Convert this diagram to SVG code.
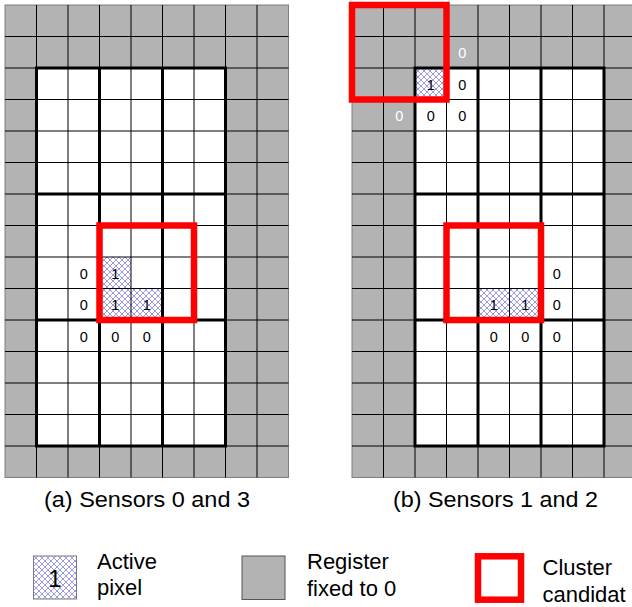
<svg xmlns="http://www.w3.org/2000/svg" width="632" height="607" viewBox="0 0 632 607">
<style>
.bg{fill:#b3b3b3;stroke:#7f7f7f;stroke-width:1}
.wh{fill:#ffffff}
.thin{fill:none;stroke:#000;stroke-width:1}
.thick{fill:none;stroke:#000;stroke-width:3}
.red{fill:none;stroke:#ff0000;stroke-width:6.5}
.act{fill:url(#hatch)}
.d{font-family:"Liberation Sans",Arial,sans-serif;font-size:14.5px;text-anchor:middle;fill:#000}
.dw{fill:#ffffff}
.lbl{font-family:"Liberation Sans",Arial,sans-serif;font-size:22px;fill:#000}
</style>
<defs>
<pattern id="hatch" patternUnits="userSpaceOnUse" width="6" height="6">
<rect width="6" height="6" fill="#ffffff"/>
<path d="M0,0L6,6M6,0L0,6" stroke="#7070d8" stroke-width="0.7"/>
</pattern>
<path id="grid" class="thin" d="M31.5,0V472.5M63,0V472.5M94.5,0V472.5M126,0V472.5M157.5,0V472.5M189,0V472.5M220.5,0V472.5M252,0V472.5M0,31.5H283.5M0,63H283.5M0,94.5H283.5M0,126H283.5M0,157.5H283.5M0,189H283.5M0,220.5H283.5M0,252H283.5M0,283.5H283.5M0,315H283.5M0,346.5H283.5M0,378H283.5M0,409.5H283.5M0,441H283.5"/>
</defs>

<g id="panel-a" transform="translate(5,5)">
<rect class="bg" x="0" y="0" width="283.5" height="472.5"/>
<rect class="wh" x="31.5" y="63" width="189" height="378"/>
<rect class="act" x="94.5" y="252" width="31.5" height="31.5"/>
<rect class="act" x="94.5" y="283.5" width="31.5" height="31.5"/>
<rect class="act" x="126" y="283.5" width="31.5" height="31.5"/>
<use href="#grid"/>
<path class="thick" d="M31.5,63H220.5V441H31.5ZM94.5,63V441M157.5,63V441M31.5,189H220.5M31.5,315H220.5"/>
<g id="digits-a">
<text class="d" x="78.75" y="273.75">0</text>
<text class="d" x="78.75" y="305.25">0</text>
<text class="d" x="78.75" y="336.75">0</text>
<text class="d" x="110.25" y="336.75">0</text>
<text class="d" x="141.75" y="336.75">0</text>
<text class="d" x="110.25" y="273.75">1</text>
<text class="d" x="110.25" y="305.25">1</text>
<text class="d" x="141.75" y="305.25">1</text>
</g>
<rect id="cluster-a" class="red" x="94.5" y="220.5" width="94.5" height="94.5"/>
</g>

<g id="panel-b" transform="translate(352,5)">
<rect class="bg" x="0" y="0" width="283.5" height="472.5"/>
<rect class="wh" x="63" y="63" width="189" height="378"/>
<rect class="act" x="63" y="63" width="31.5" height="31.5"/>
<rect class="act" x="126" y="283.5" width="31.5" height="31.5"/>
<rect class="act" x="157.5" y="283.5" width="31.5" height="31.5"/>
<use href="#grid"/>
<path class="thick" d="M63,63H252V441H63ZM126,63V441M189,63V441M63,189H252M63,315H252"/>
<g id="digits-b">
<text class="d dw" x="110.25" y="53.25">0</text>
<text class="d" x="110.25" y="84.75">0</text>
<text class="d dw" x="47.25" y="116.25">0</text>
<text class="d" x="78.75" y="116.25">0</text>
<text class="d" x="110.25" y="116.25">0</text>
<text class="d" x="78.75" y="84.75">1</text>
<text class="d" x="204.75" y="273.75">0</text>
<text class="d" x="204.75" y="305.25">0</text>
<text class="d" x="141.75" y="336.75">0</text>
<text class="d" x="173.25" y="336.75">0</text>
<text class="d" x="204.75" y="336.75">0</text>
<text class="d" x="141.75" y="305.25">1</text>
<text class="d" x="173.25" y="305.25">1</text>
</g>
<rect id="cluster-b1" class="red" x="0" y="0" width="94.5" height="94.5"/>
<rect id="cluster-b2" class="red" x="94.5" y="220.5" width="94.5" height="94.5"/>
</g>

<g id="captions">
<text class="lbl" x="147" y="507" text-anchor="middle" textLength="206" lengthAdjust="spacingAndGlyphs">(a) Sensors 0 and 3</text>
<text class="lbl" x="495.5" y="507" text-anchor="middle" textLength="205" lengthAdjust="spacingAndGlyphs">(b) Sensors 1 and 2</text>
</g>

<g id="legend">
<g id="legend-active">
<rect x="33.5" y="556" width="43" height="43" fill="url(#hatch)" stroke="#777" stroke-width="1"/>
<text x="55" y="587" font-family="Liberation Sans,Arial,sans-serif" font-size="24" text-anchor="middle">1</text>
<text class="lbl" x="97" y="569">Active</text>
<text class="lbl" x="97" y="595">pixel</text>
</g>
<g id="legend-fixed">
<rect x="242" y="556" width="43" height="43.5" fill="#b3b3b3" stroke="#555" stroke-width="1"/>
<text class="lbl" x="307" y="569">Register</text>
<text class="lbl" x="307" y="596">fixed to 0</text>
</g>
<g id="legend-cluster">
<rect x="478" y="556.3" width="43" height="43.4" class="red" stroke-width="6"/>
<text class="lbl" x="542.5" y="575">Cluster</text>
<text class="lbl" x="542.5" y="602">candidat</text>
</g>
</g>
</svg>
